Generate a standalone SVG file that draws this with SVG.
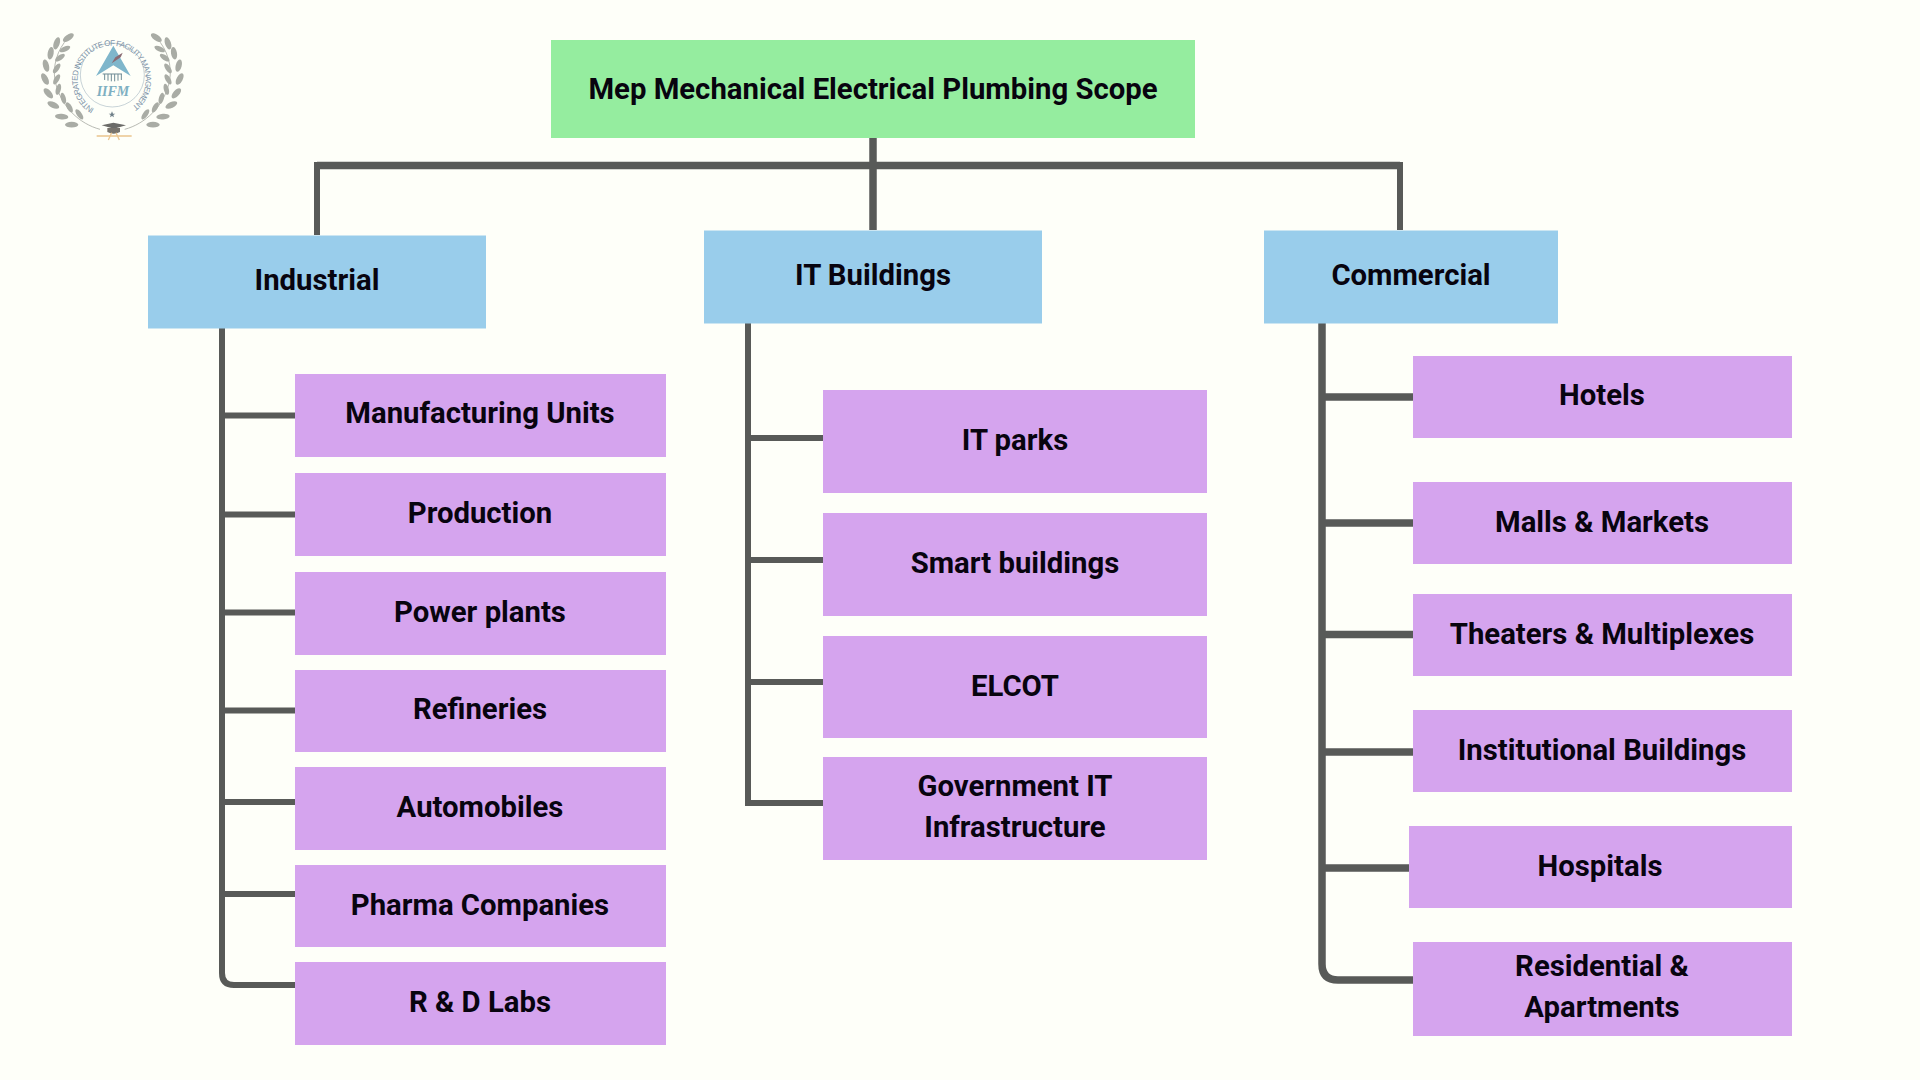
<svg xmlns="http://www.w3.org/2000/svg" width="1920" height="1080" viewBox="0 0 1920 1080">
<style>
.t{font-family:Roboto,"Liberation Sans",sans-serif;font-weight:700;font-size:29.3px;fill:#08040f;text-anchor:middle}
.g{fill:#95ED9F}.b{fill:#99CDEB}.p{fill:#D5A4EE}
.c{fill:none;stroke:#585A58;stroke-width:6}
.c2{fill:none;stroke:#585A58;stroke-width:7.5}
.leaf{fill:#A9ACA5}
</style>
<defs>
<g id="laurel">
<path d="M300 388C240 372 180 320 165 240C158 200 170 150 205 113" fill="none" stroke="#A9ACA5" stroke-width="2.5"/>
<ellipse class="leaf" cx="205" cy="113" rx="19" ry="9" transform="rotate(-35 205 113)"/>
<ellipse class="leaf" cx="170" cy="130" rx="19" ry="9" transform="rotate(-72 170 130)"/>
<ellipse class="leaf" cx="195" cy="147" rx="17" ry="7.500" transform="rotate(-25 195 147)"/>
<ellipse class="leaf" cx="152" cy="160" rx="19" ry="9" transform="rotate(-80 152 160)"/>
<ellipse class="leaf" cx="180" cy="173" rx="17" ry="7.500" transform="rotate(-35 180 173)"/>
<ellipse class="leaf" cx="138" cy="197" rx="19" ry="9" transform="rotate(75 138 197)"/>
<ellipse class="leaf" cx="170" cy="205" rx="17" ry="7.500" transform="rotate(-55 170 205)"/>
<ellipse class="leaf" cx="135" cy="237" rx="19" ry="9" transform="rotate(62 135 237)"/>
<ellipse class="leaf" cx="170" cy="238" rx="17" ry="7.500" transform="rotate(-60 170 238)"/>
<ellipse class="leaf" cx="145" cy="280" rx="19" ry="9" transform="rotate(48 145 280)"/>
<ellipse class="leaf" cx="175" cy="268" rx="17" ry="7.500" transform="rotate(-75 175 268)"/>
<ellipse class="leaf" cx="160" cy="315" rx="19" ry="9" transform="rotate(25 160 315)"/>
<ellipse class="leaf" cx="190" cy="295" rx="17" ry="7.500" transform="rotate(75 190 295)"/>
<ellipse class="leaf" cx="185" cy="350" rx="20" ry="8.500" transform="rotate(5 185 350)"/>
<ellipse class="leaf" cx="208" cy="322" rx="17" ry="7.500" transform="rotate(60 208 322)"/>
<ellipse class="leaf" cx="215" cy="374" rx="20" ry="8.500" transform="rotate(0 215 374)"/>
<ellipse class="leaf" cx="238" cy="343" rx="18" ry="7.500" transform="rotate(55 238 343)"/>
</g>
<path id="ring" d="M283 327A102 102 0 1 1 400 318"/>
</defs>
<rect width="1920" height="1080" fill="#FEFFF9"/>

<g id="connectors">
<path class="c2" d="M317 165.500H1400"/>
<path class="c" d="M317 162V235M1400 162V230"/>
<path class="c2" d="M873 138V230"/>
<path class="c" d="M222 328V973Q222 985 234 985H295"/>
<path class="c" d="M225 415.500H295M225 514.500H295M225 612.500H295M225 710.500H295M225 802H295M225 894H295"/>
<path class="c" d="M748 323V803H823"/>
<path class="c" d="M751 438H823M751 560H823M751 682H823"/>
<path class="c2" d="M1322 323V964Q1322 980 1338 980H1413"/>
<path class="c2" d="M1325 397H1413M1325 523H1413M1325 634.500H1413M1325 752H1413M1325 868H1409"/>
</g>

<g id="logo" transform="scale(.33333)">
<use href="#laurel"/>
<use href="#laurel" transform="translate(674 0) scale(-1 1)"/>
<circle cx="337" cy="225" r="96" fill="#FEFFF9" stroke="#8FA6B5" stroke-width="1.500"/>
<text font-family="'Liberation Sans',sans-serif" font-size="24" fill="#7D93A8"><textPath href="#ring" textLength="520" lengthAdjust="spacing">INTEGRATED INSTITUTE OF FACILITY MANAGEMENT</textPath></text>
<path d="M340 137L392 228L340 196L288 228Z" fill="#7FB6CB"/>
<path d="M346 172L368 158L362 172L335 190Z" fill="#8A6A72"/>
<path d="M308 222h58M314 222v18M324 222v20M334 222v22M344 222v22M354 222v20M364 222v18" stroke="#6E8C96" stroke-width="3" fill="none"/>
<text x="339" y="288" text-anchor="middle" font-family="'Liberation Serif',serif" font-weight="700" font-style="italic" font-size="42" fill="#7FB0C2">IIFM</text>
<path d="M336 334l3 7h7l-6 4 2 7-6-4-6 4 2-7-6-4h7z" fill="#6F7F88"/>
<path d="M305 376L340 368L378 376L342 386Z" fill="#6B6B68"/>
<path d="M322 384h38v12q-19 10-38 0z" fill="#77736C"/>
<path d="M290 408H395" stroke="#EFD3A8" stroke-width="6"/>
<path d="M335 398L325 420M348 398L358 420" stroke="#EBC691" stroke-width="4"/>
</g>

<g id="root"><rect class="g" x="551" y="40" width="644" height="98"/><text class="t" x="873" y="99">Mep Mechanical Electrical Plumbing Scope</text></g>

<g id="industrial"><rect class="b" x="148" y="235.500" width="338" height="93"/><text class="t" x="317" y="290">Industrial</text></g>
<g id="it-buildings"><rect class="b" x="704" y="230.500" width="338" height="93"/><text class="t" x="873" y="285">IT Buildings</text></g>
<g id="commercial"><rect class="b" x="1264" y="230.500" width="294" height="93"/><text class="t" x="1411" y="285">Commercial</text></g>

<g id="manufacturing-units"><rect class="p" x="295" y="374" width="371" height="83"/><text class="t" x="480" y="423">Manufacturing Units</text></g>
<g id="production"><rect class="p" x="295" y="473" width="371" height="83"/><text class="t" x="480" y="523">Production</text></g>
<g id="power-plants"><rect class="p" x="295" y="572" width="371" height="83"/><text class="t" x="480" y="622">Power plants</text></g>
<g id="refineries"><rect class="p" x="295" y="670" width="371" height="82"/><text class="t" x="480" y="719">Refineries</text></g>
<g id="automobiles"><rect class="p" x="295" y="767" width="371" height="83"/><text class="t" x="480" y="817">Automobiles</text></g>
<g id="pharma-companies"><rect class="p" x="295" y="865" width="371" height="82"/><text class="t" x="480" y="915">Pharma Companies</text></g>
<g id="r-d-labs"><rect class="p" x="295" y="962" width="371" height="83"/><text class="t" x="480" y="1012">R &amp; D Labs</text></g>

<g id="it-parks"><rect class="p" x="823" y="390" width="384" height="103"/><text class="t" x="1015" y="450">IT parks</text></g>
<g id="smart-buildings"><rect class="p" x="823" y="513" width="384" height="103"/><text class="t" x="1015" y="573">Smart buildings</text></g>
<g id="elcot"><rect class="p" x="823" y="636" width="384" height="102"/><text class="t" x="1015" y="696">ELCOT</text></g>
<g id="government-it"><rect class="p" x="823" y="757" width="384" height="103"/><text class="t" x="1015" y="796">Government IT</text><text class="t" x="1015" y="837">Infrastructure</text></g>

<g id="hotels"><rect class="p" x="1413" y="356" width="379" height="82"/><text class="t" x="1602" y="405">Hotels</text></g>
<g id="malls"><rect class="p" x="1413" y="482" width="379" height="82"/><text class="t" x="1602" y="532">Malls &amp; Markets</text></g>
<g id="theaters"><rect class="p" x="1413" y="594" width="379" height="82"/><text class="t" x="1602" y="644">Theaters &amp; Multiplexes</text></g>
<g id="institutional"><rect class="p" x="1413" y="710" width="379" height="82"/><text class="t" x="1602" y="760">Institutional Buildings</text></g>
<g id="hospitals"><rect class="p" x="1409" y="826" width="383" height="82"/><text class="t" x="1600" y="876">Hospitals</text></g>
<g id="residential"><rect class="p" x="1413" y="942" width="379" height="94"/><text class="t" x="1602" y="976">Residential &amp;</text><text class="t" x="1602" y="1017">Apartments</text></g>
</svg>
